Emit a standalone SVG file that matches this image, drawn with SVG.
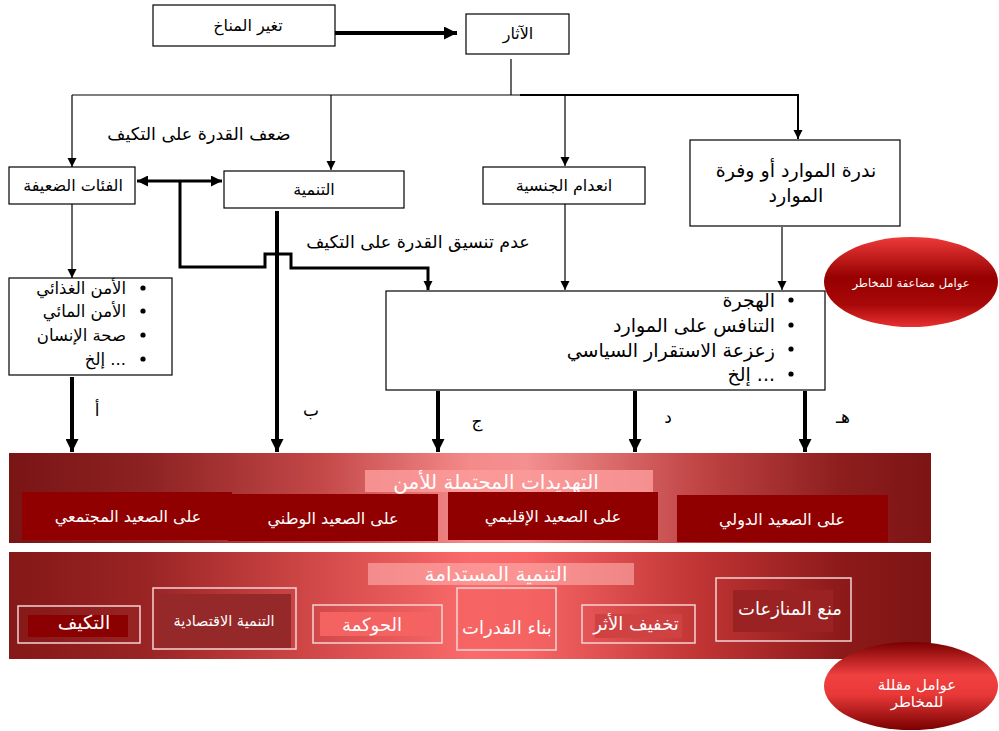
<svg xmlns="http://www.w3.org/2000/svg" width="999" height="731" viewBox="0 0 999 731">
<style>
text{font-family:"DejaVu Sans","Noto Sans",sans-serif;}
.box{fill:#fff;stroke:#000;stroke-width:1.2;}
.t{font-size:16px;fill:#000;text-anchor:middle;}
.lst{font-size:16.5px;fill:#000;text-anchor:end;}
.lst2{font-size:19px;fill:#000;text-anchor:end;}
.lbl{font-size:17.5px;fill:#000;text-anchor:middle;}
.ltr{font-size:17px;fill:#000;text-anchor:middle;}
.thin{fill:none;stroke:#000;stroke-width:1.2;}
.thick{fill:none;stroke:#000;stroke-width:4;}
.med{fill:none;stroke:#000;stroke-width:3;}
.w{fill:#fff;text-anchor:middle;}
.sub{fill:#900000;}
.ob{fill:none;stroke:#f2d4d4;stroke-width:1.5;}
</style>
<defs>
<marker id="ah" viewBox="0 0 10 10" refX="10" refY="5" markerUnits="userSpaceOnUse" markerWidth="9" markerHeight="10" orient="auto"><path d="M0,0 L10,5 L0,10 z" fill="#000"/></marker>
<marker id="ahb" viewBox="0 0 10 10" refX="10" refY="5" markerUnits="userSpaceOnUse" markerWidth="15" markerHeight="13" orient="auto"><path d="M0,0 L10,5 L0,10 z" fill="#000"/></marker>
<marker id="ahm" viewBox="0 0 10 10" refX="10" refY="5" markerUnits="userSpaceOnUse" markerWidth="12" markerHeight="11" orient="auto-start-reverse"><path d="M0,0 L10,5 L0,10 z" fill="#000"/></marker>
<linearGradient id="g1" x1="0" y1="0" x2="1" y2="0">
<stop offset="0" stop-color="#7a1515"/><stop offset="0.15" stop-color="#8d2222"/><stop offset="0.34" stop-color="#c44848"/><stop offset="0.5" stop-color="#f48a8a"/><stop offset="0.56" stop-color="#f49090"/><stop offset="0.75" stop-color="#c04444"/><stop offset="0.9" stop-color="#8e1e1e"/><stop offset="1" stop-color="#7d1414"/>
</linearGradient>
<linearGradient id="g2" x1="0" y1="0" x2="1" y2="0">
<stop offset="0" stop-color="#851818"/><stop offset="0.15" stop-color="#9a2424"/><stop offset="0.34" stop-color="#d44a4a"/><stop offset="0.5" stop-color="#fa6a6a"/><stop offset="0.56" stop-color="#f86666"/><stop offset="0.75" stop-color="#c03434"/><stop offset="0.9" stop-color="#8e1a1a"/><stop offset="1" stop-color="#7d1414"/>
</linearGradient>
<linearGradient id="e1" x1="0" y1="0" x2="0" y2="1">
<stop offset="0" stop-color="#ee3a3a"/><stop offset="0.45" stop-color="#960000"/><stop offset="0.75" stop-color="#a80808"/><stop offset="1" stop-color="#e83030"/>
</linearGradient>
<linearGradient id="e2" x1="0" y1="0" x2="0" y2="1">
<stop offset="0" stop-color="#7a0000"/><stop offset="0.38" stop-color="#f04040"/><stop offset="0.6" stop-color="#e83838"/><stop offset="1" stop-color="#7a0000"/>
</linearGradient>
</defs>
<rect width="999" height="731" fill="#fff"/>

<g id="connectors">
<path class="thick" d="M333,33 H457" marker-end="url(#ahb)"/>
<path class="thin" d="M511,59 V95"/>
<path class="thin" d="M72,95 H798"/>
<path class="thin" d="M72,95 V167" marker-end="url(#ah)"/>
<path class="thin" d="M331,95 V170" marker-end="url(#ah)"/>
<path class="thin" d="M565,95 V166" marker-end="url(#ah)"/>
<path fill="none" stroke="#000" stroke-width="2" d="M520,95 H798 V139" marker-end="url(#ah)"/>
<path class="med" d="M137,181 H222" marker-start="url(#ahm)" marker-end="url(#ahm)"/>
<path class="med" d="M180,181 V267 H265 V254 H291 V268 H428 V290" marker-end="url(#ah)"/>
<path class="thick" d="M277,211 V452" marker-end="url(#ahb)"/>
<path class="thin" d="M72,204 V278" marker-end="url(#ah)"/>
<path class="thin" d="M565,204 V290" marker-end="url(#ah)"/>
<path class="thin" d="M782,227 V290" marker-end="url(#ah)"/>
<path class="thick" d="M72,377 V452" marker-end="url(#ahb)"/>
<path class="thick" d="M438,391 V452" marker-end="url(#ahb)"/>
<path class="thick" d="M635,391 V452" marker-end="url(#ahb)"/>
<path class="thick" d="M805,391 V452" marker-end="url(#ahb)"/>
<text class="lbl" x="199" y="140">ضعف القدرة على التكيف</text>
<text class="lbl" x="418" y="248">عدم تنسيق القدرة على التكيف</text>
<text class="ltr" x="97" y="416">أ</text>
<text class="ltr" x="311" y="416">ب</text>
<text class="ltr" x="477" y="427">ج</text>
<text class="ltr" x="668" y="423">د</text>
<text class="ltr" x="843" y="423">هـ</text>
</g>

<g id="climate"><rect class="box" x="153" y="5" width="182" height="41"/><text class="t" x="248" y="31">تغير المناخ</text></g>
<g id="effects"><rect class="box" x="466" y="14" width="103" height="40"/><text class="t" x="518" y="39">الآثار</text></g>
<g id="vulnerable"><rect class="box" x="9" y="167" width="126" height="37"/><text class="t" x="73" y="191">الفئات الضعيفة</text></g>
<g id="development"><rect class="box" x="224" y="171" width="180" height="37"/><text class="t" x="314" y="195">التنمية</text></g>
<g id="statelessness"><rect class="box" x="483" y="167" width="162" height="37"/><text class="t" x="564" y="191">انعدام الجنسية</text></g>
<g id="scarcity"><rect class="box" x="690" y="140" width="210" height="86"/><text class="t" x="796" y="177" style="font-size:19px">ندرة الموارد أو وفرة</text><text class="t" x="796" y="202" style="font-size:19px">الموارد</text></g>

<g id="security-list"><rect class="box" x="9" y="278" width="163" height="97"/>
<circle cx="143" cy="288" r="2.6"/><circle cx="143" cy="311" r="2.6"/><circle cx="143" cy="335" r="2.6"/><circle cx="143" cy="359" r="2.6"/>
<text class="lst" x="126" y="294">الأمن الغذائي</text>
<text class="lst" x="126" y="317">الأمن المائي</text>
<text class="lst" x="126" y="341">صحة الإنسان</text>
<text class="lst" x="126" y="365">إلخ ...</text>
</g>
<g id="impacts-list"><rect class="box" x="386" y="291" width="439" height="99"/>
<circle cx="791" cy="300" r="2.6"/><circle cx="791" cy="325" r="2.6"/><circle cx="791" cy="349" r="2.6"/><circle cx="791" cy="374" r="2.6"/>
<text class="lst2" x="775" y="307">الهجرة</text>
<text class="lst2" x="775" y="332">التنافس على الموارد</text>
<text class="lst2" x="775" y="357">زعزعة الاستقرار السياسي</text>
<text class="lst2" x="775" y="381">إلخ ...</text>
</g>

<g id="multipliers"><ellipse cx="911" cy="282" rx="87" ry="45" fill="url(#e1)"/><text class="w" x="911" y="287" font-size="11.5">عوامل مضاعفة للمخاطر</text></g>

<g id="threats">
<rect x="9" y="453" width="922" height="90" fill="url(#g1)"/>
<rect x="365" y="470" width="288" height="22" fill="#fb9a9a" opacity="0.85"/>
<text class="w" x="496" y="489" font-size="20">التهديدات المحتملة للأمن</text>
<rect class="sub" x="22" y="492" width="210" height="48"/><text class="w" x="128" y="522" font-size="16">على الصعيد المجتمعي</text>
<rect class="sub" x="228" y="494" width="210" height="47"/><text class="w" x="333" y="524" font-size="16">على الصعيد الوطني</text>
<rect class="sub" x="448" y="492" width="210" height="48"/><text class="w" x="553" y="522" font-size="16">على الصعيد الإقليمي</text>
<rect class="sub" x="677" y="495" width="211" height="47"/><text class="w" x="782" y="525" font-size="16">على الصعيد الدولي</text>
</g>

<g id="sustainable">
<rect x="9" y="552" width="922" height="107" fill="url(#g2)"/>
<rect x="368" y="563" width="266" height="22" fill="#ffb0b0" opacity="0.6"/>
<text class="w" x="496" y="581" font-size="20">التنمية المستدامة</text>
<g id="adaptation"><rect class="ob" x="18" y="606" width="122" height="37"/><rect x="28" y="615" width="100" height="22" fill="#8b0000"/><text class="w" x="84" y="629" font-size="19">التكيف</text></g>
<g id="economic"><rect class="ob" x="153" y="588" width="143" height="61"/><rect x="158" y="594" width="133" height="54" fill="#952828"/><text class="w" x="224" y="626" font-size="14.5">التنمية الاقتصادية</text></g>
<g id="governance"><rect class="ob" x="313" y="605" width="129" height="38"/><rect x="320" y="612" width="115" height="24" fill="#f46262"/><text class="w" x="372" y="631" font-size="18">الحوكمة</text></g>
<g id="capacity"><rect class="ob" x="457" y="588" width="99" height="62"/><rect x="459" y="590" width="95" height="58" fill="#f46060" opacity="0.6"/><text class="w" x="507" y="634" font-size="18">بناء القدرات</text></g>
<g id="mitigation"><rect class="ob" x="582" y="605" width="113" height="38"/><rect x="595" y="614" width="87" height="24" fill="#d04242"/><text class="w" x="636" y="630" font-size="18">تخفيف الأثر</text></g>
<g id="conflict"><rect class="ob" x="716" y="578" width="135" height="63"/><rect x="733" y="590" width="100" height="42" fill="#9a2222"/><text class="w" x="790" y="615" font-size="18">منع المنازعات</text></g>
</g>

<g id="reducers"><ellipse cx="911" cy="686" rx="87" ry="44" fill="url(#e2)"/><text class="w" x="917" y="690" font-size="15">عوامل مقللة</text><text class="w" x="917" y="707" font-size="15">للمخاطر</text></g>
</svg>
